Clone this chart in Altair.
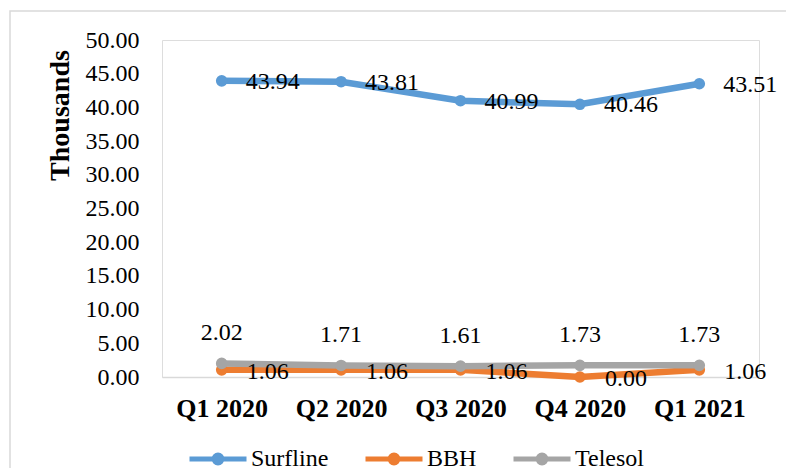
import altair as alt
import pandas as pd

quarters = ["Q1 2020", "Q2 2020", "Q3 2020", "Q4 2020", "Q1 2021"]
series_names = ["Surfline", "BBH", "Telesol"]
surfline = [43.94, 43.81, 40.99, 40.46, 43.51]
bbh = [1.06, 1.06, 1.06, 0.00, 1.06]
telesol = [2.02, 1.71, 1.61, 1.73, 1.73]
colors = ["#5B9BD5", "#ED7D31", "#A5A5A5"]
y_ticks = [0, 5, 10, 15, 20, 25, 30, 35, 40, 45, 50]

rows = []
for name, vals in zip(series_names, [surfline, bbh, telesol]):
    for q, v in zip(quarters, vals):
        rows.append({"quarter": q, "series": name, "value": v})
df = pd.DataFrame(rows)

FONT = "Liberation Serif"

x_enc = alt.X("quarter:N", sort=quarters,
              scale=alt.Scale(type="point", padding=0.5),
              axis=alt.Axis(title=None, labelAngle=0, labelFontWeight="bold",
                            labelFontSize=26, labelFont=FONT, labelColor="#000000",
                            labelPadding=18, ticks=False, domainColor="#D9D9D9",
                            domainWidth=1.5))
y_enc = alt.Y("value:Q",
              scale=alt.Scale(domain=[0, 50], nice=False),
              axis=alt.Axis(title="Thousands", values=y_ticks, format=".2f",
                            grid=False, domain=False, ticks=False,
                            labelOverlap=False,
                            labelFontSize=24, labelFont=FONT, labelColor="#000000",
                            labelPadding=23,
                            titleFont=FONT, titleFontSize=28, titleFontWeight="bold",
                            titleColor="#000000", titleAngle=270,
                            titleX=-102, titleY=75, titleAlign="center",
                            titleBaseline="middle"))

legend_path = ("M-1,0L1,0M0.14,0A0.14,0.14,0,1,1,-0.14,0"
               "A0.14,0.14,0,1,1,0.14,0Z")
color_enc = alt.Color("series:N",
                      scale=alt.Scale(domain=series_names, range=colors),
                      legend=alt.Legend(title=None, orient="none",
                                        direction="horizontal",
                                        legendX=25, legendY=388,
                                        symbolType=legend_path,
                                        symbolSize=3249, symbolStrokeWidth=5,
                                        labelFont=FONT, labelFontSize=24,
                                        labelColor="#000000", labelOffset=2,
                                        columnPadding=26))

base = alt.Chart(df).encode(x=x_enc, y=y_enc, color=color_enc)

layers = []
# frame around the chart (decoration)
frame = alt.Chart(pd.DataFrame({"f": [0]})).mark_rect(
    fill="transparent", stroke="#D9D9D9", strokeWidth=1.5
).encode(x=alt.value(-152), x2=alt.value(626), y=alt.value(-29), y2=alt.value(440))
layers.append(frame)

for s in series_names:
    sub = base.transform_filter(alt.datum.series == s)
    layers.append(sub.mark_line(strokeWidth=6.5))
    layers.append(sub.mark_point(filled=True, size=135, opacity=1))

txt = alt.Text("value:Q", format=".2f")
tbase = alt.Chart(df).encode(x=x_enc, y=y_enc, text=txt)
lab_s = tbase.transform_filter(alt.datum.series == "Surfline").mark_text(
    align="left", baseline="middle", dx=24, dy=1, font=FONT, fontSize=24, color="#000000")
lab_b = tbase.transform_filter(alt.datum.series == "BBH").mark_text(
    align="left", baseline="middle", dx=25, dy=2, font=FONT, fontSize=24, color="#000000")
lab_t = tbase.transform_filter(alt.datum.series == "Telesol").mark_text(
    align="center", baseline="middle", dy=-30, font=FONT, fontSize=24, color="#000000")
layers += [lab_s, lab_b, lab_t]

chart = alt.layer(*layers).properties(
    width=597, height=337,
    padding={"left": 154, "top": 32, "right": 27, "bottom": 91},
    autosize=alt.AutoSizeParams(type="none"),
).configure_view(stroke=None).configure(background="#FFFFFF")

chart.save("out.html", embed_options={"renderer": "svg", "actions": False})
